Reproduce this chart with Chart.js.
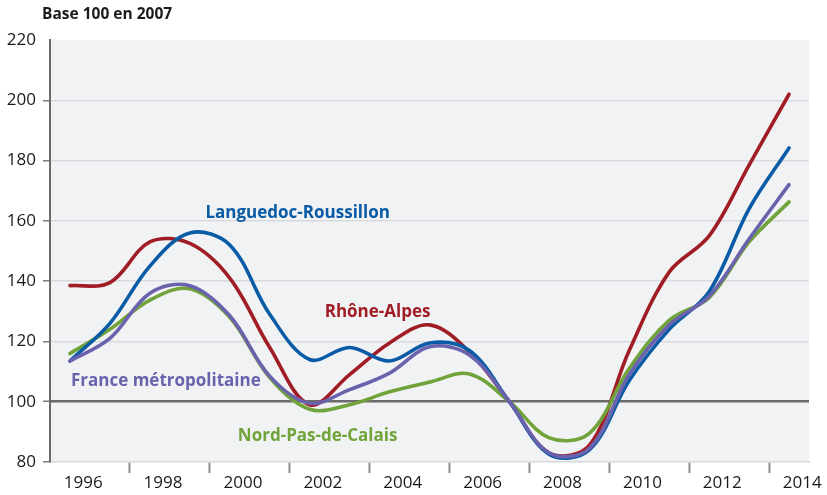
<!DOCTYPE html>
<html>
<head>
<meta charset="utf-8">
<script src="https://cdn.jsdelivr.net/npm/chart.js@4/dist/chart.umd.min.js"></script>
<style>
  html, body { margin: 0; padding: 0; background: #fff; }
  #wrap { width: 827px; height: 495px; position: relative; }
</style>
</head>
<body>
<div id="wrap"><canvas id="chart" width="827" height="495"></canvas></div>
<script>
// data, base 100 in 2007
const years = [1996, 1997, 1998, 1999, 2000, 2001, 2002, 2003, 2004, 2005,
               2006, 2007, 2008, 2009, 2010, 2011, 2012, 2013, 2014];
const rhoneAlpes = [138.5, 139.5, 153, 152.5, 141, 118, 99, 109, 119.5, 125.5,
                    116.5, 100, 83, 85.5, 117, 143, 155, 178.5, 202];
const languedoc = [113.5, 126, 145, 156, 152, 129, 114, 118, 113.5, 119.5,
                   117, 100, 82.5, 84, 107, 124, 136.5, 164, 184.2];
const france = [113.5, 121, 136, 138.5, 128.5, 108.5, 99.5, 104, 109.5, 118.2,
                115.5, 100, 83, 84.5, 109, 125.5, 135, 154, 172];
const nordPas = [116, 124, 133.7, 137.5, 128, 108, 97.5, 99, 103.3, 106.5,
                 109.2, 100, 88, 89.5, 111, 127, 134.5, 153, 166.3];

const labelYears = [1996, 1998, 2000, 2002, 2004, 2006, 2008, 2010, 2012, 2014];
const markYears = [1997.5, 1999.5, 2001.5, 2003.5, 2005.5, 2007.5, 2009.5, 2011.5, 2013.5];
const yTicks = [80, 100, 120, 140, 160, 180, 200, 220];

const seriesNames = ['France métropolitaine', 'Languedoc-Roussillon', 'Nord-Pas-de-Calais', 'Rhône-Alpes'];
const seriesColors = ['#6a62ad', '#0a5ba6', '#70a43a', '#a01d25'];

// text labels next to the curves (year, value)
const curveLabels = [
  { text: 'Languedoc-Roussillon', x: 2001.7, y: 162.6, color: seriesColors[1] },
  { text: 'Rhône-Alpes', x: 2003.7, y: 129.8, color: seriesColors[3] },
  { text: 'France métropolitaine', x: 1998.4, y: 106.9, color: seriesColors[0] },
  { text: 'Nord-Pas-de-Calais', x: 2002.2, y: 88.6, color: seriesColors[2] }
];

const FONT = '"Open Sans", "DejaVu Sans", sans-serif';
const LABEL_SHIFT = 0.33;

const toPoints = vals => years.map((yr, i) => ({ x: yr, y: vals[i] }));
const allSeries = [france, languedoc, nordPas, rhoneAlpes];

const decorPlugin = {
  id: 'decor',
  beforeDraw(chart) {
    const { ctx, chartArea: a } = chart;
    ctx.save();
    ctx.fillStyle = '#f1f2f4';
    ctx.fillRect(a.left, a.top, a.right - a.left, a.bottom - a.top);
    ctx.restore();
  },
  afterDraw(chart) {
    const { ctx, scales } = chart;
    ctx.save();
    ctx.fillStyle = '#1a1a1a';
    ctx.font = 'bold 15.5px ' + FONT;
    ctx.textBaseline = 'alphabetic';
    ctx.fillText('Base 100 en 2007', 42, 19);
    ctx.font = 'bold 17px ' + FONT;
    ctx.textAlign = 'center';
    ctx.textBaseline = 'middle';
    curveLabels.forEach(l => {
      ctx.fillStyle = l.color;
      ctx.fillText(l.text, scales.x.getPixelForValue(l.x), scales.y.getPixelForValue(l.y));
    });
    ctx.restore();
  }
};

new Chart(document.getElementById('chart'), {
  type: 'line',
  data: {
    datasets: allSeries.map((vals, i) => ({
      label: seriesNames[i],
      data: toPoints(vals),
      borderColor: seriesColors[i],
      borderWidth: 3.6,
      borderCapStyle: 'round',
      pointRadius: 0,
      tension: 0.35,
      fill: false,
      order: i
    }))
  },
  options: {
    responsive: false,
    animation: false,
    layout: { padding: { top: 40, right: 18, bottom: 0, left: 0 } },
    plugins: {
      legend: { display: false },
      tooltip: { enabled: false }
    },
    scales: {
      x: {
        type: 'linear',
        min: 1995.5,
        max: 2014.5,
        afterBuildTicks(scale) {
          const t = labelYears.map(v => ({ value: v + LABEL_SHIFT }))
            .concat(markYears.map(v => ({ value: v })));
          t.sort((p, q) => p.value - q.value);
          scale.ticks = t;
        },
        afterFit(scale) { scale.height = 33; },
        ticks: {
          autoSkip: false,
          maxRotation: 0,
          padding: 0,
          color: '#1a1a1a',
          font: { family: FONT, size: 17 },
          callback: v => (Math.abs(v % 1 - 0.5) < 0.01 ? '' : String(Math.round(v - LABEL_SHIFT)))
        },
        grid: {
          drawOnChartArea: false,
          tickLength: 11,
          tickWidth: 2,
          tickColor: c => (c.tick && Math.abs(c.tick.value % 1 - 0.5) < 0.01 ? '#8a8a8a' : 'rgba(0,0,0,0)')
        },
        border: { color: '#d6d7da', width: 1.5 }
      },
      y: {
        min: 80,
        max: 220,
        afterBuildTicks(scale) { scale.ticks = yTicks.map(v => ({ value: v })); },
        afterFit(scale) { scale.width = 50; },
        ticks: {
          padding: 7,
          color: '#1a1a1a',
          font: { family: FONT, size: 17 }
        },
        grid: {
          tickLength: 7,
          color: c => {
            const v = c.tick ? c.tick.value : 0;
            if (v === 100) return '#6b6b6b';
            if (v === 80 || v === 220) return 'rgba(0,0,0,0)';
            return '#d9dadd';
          },
          lineWidth: c => (c.tick && c.tick.value === 100 ? 2.5 : 1.5),
          tickColor: c => (c.tick && c.tick.value === 220 ? 'rgba(0,0,0,0)' : '#7a7a7a'),
          tickWidth: 1.5
        },
        border: { color: '#6b6b6b', width: 2 }
      }
    }
  },
  plugins: [decorPlugin]
});
</script>
</body>
</html>
